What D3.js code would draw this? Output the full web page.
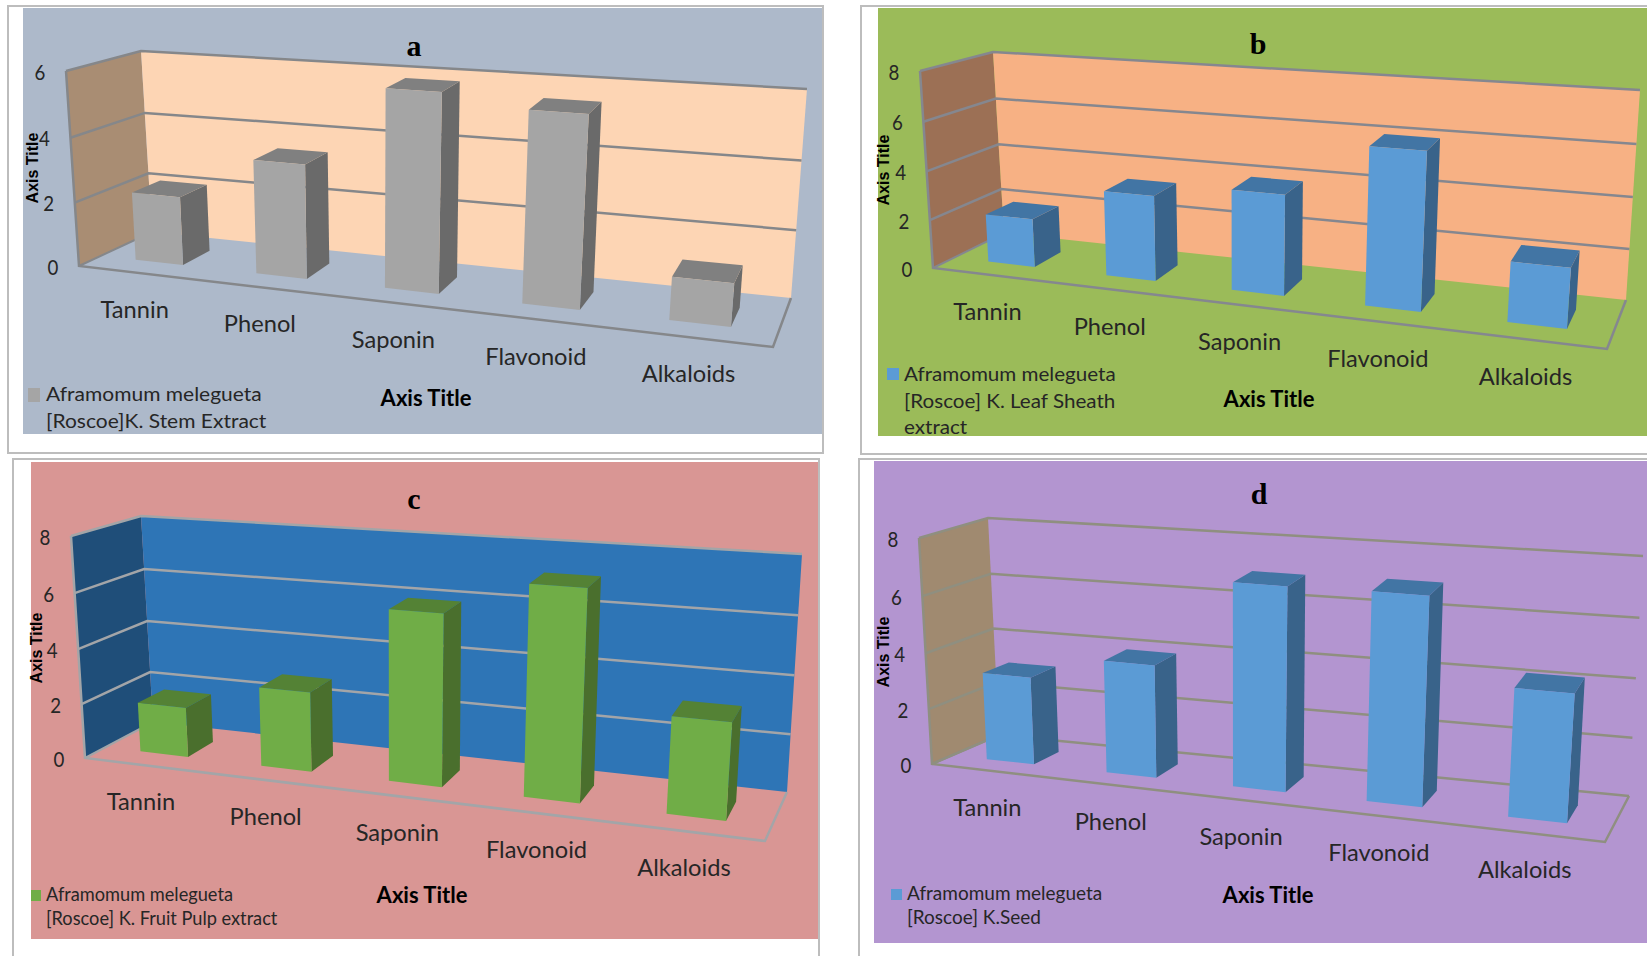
<!DOCTYPE html>
<html>
<head>
<meta charset="utf-8">
<title>Phytochemical content of Aframomum melegueta extracts</title>
<script src="https://cdnjs.cloudflare.com/ajax/libs/d3/7.9.0/d3.min.js"></script>
<style>
  html, body { margin: 0; padding: 0; background: #fff; overflow: hidden; }
  svg { display: block; }
</style>
</head>
<body>
<script>
// Chart content
const categories = ["Tannin", "Phenol", "Saponin", "Flavonoid", "Alkaloids"];
const stemValues = [2.15, 3.5, 5.9, 5.57, 1.24];
const leafValues = [2.0, 3.45, 3.98, 6.08, 2.28];
const pulpValues = [1.83, 2.85, 5.99, 7.18, 3.25];
const seedValues = [3.14, 3.98, 7.03, 7.08, 4.31];
const stemTicks = [0, 2, 4, 6];
const otherTicks = [0, 2, 4, 6, 8];
const stemLegend = ["Aframomum melegueta", "[Roscoe]K. Stem Extract"];
const leafLegend = ["Aframomum melegueta", "[Roscoe] K. Leaf Sheath", "extract"];
const pulpLegend = ["Aframomum melegueta", "[Roscoe] K. Fruit Pulp extract"];
const seedLegend = ["Aframomum melegueta", "[Roscoe] K.Seed"];

const BLUE_BARS = { front: "#5b9bd5", side: "#39638a", top: "#4275a4" };

// One entry per panel: card and plot rectangles, the corners of the 3D box, and colours.
const panels = [
  {
    title: "a", values: stemValues, ticks: stemTicks, legend: stemLegend, foreshorten: 1.18,
    card: [8, 6, 815, 447], plot: [23, 8, 799, 426],
    corners: { flt: [66, 71], flb: [79, 266], blt: [141, 51], blb: [152, 232], brt: [807, 89], brb: [791, 298], frb: [773, 347] },
    bg: "#adb9ca", wall: "#fdd5b4", sideWall: "#a98d73", grid: "#85878a", bars: { front: "#a5a5a5", side: "#6a6a6a", top: "#808080" },
    titlePos: [414, 45], yTitle: [32, 168], xTitle: [426, 397],
    legendPos: { swatch: [28, 388, 12, 14], x: 46, ys: [393, 420], sx: 1.05 }
  },
  {
    title: "b", values: leafValues, ticks: otherTicks, legend: leafLegend, foreshorten: 1.17,
    card: [861, 6, 800, 448], plot: [878, 8, 769, 428],
    corners: { flt: [920, 71], flb: [933, 268], blt: [993, 52], blb: [1004, 233], brt: [1640, 90], brb: [1626, 300], frb: [1607, 349] },
    bg: "#9bbb59", wall: "#f7b184", sideWall: "#9c7055", grid: "#85878f", bars: BLUE_BARS,
    titlePos: [1258, 43], yTitle: [883, 170], xTitle: [1269, 398],
    legendPos: { swatch: [887, 368, 12, 12], x: 904, ys: [373, 400, 426], sx: 1.03 }
  },
  {
    title: "c", values: pulpValues, ticks: otherTicks, legend: pulpLegend, foreshorten: 1.15,
    card: [13, 459, 806, 510], plot: [31, 462, 787, 477],
    corners: { flt: [71, 536], flb: [85, 758], blt: [141, 516], blb: [153, 722], brt: [802, 554], brb: [787, 792], frb: [765, 841] },
    bg: "#d99694", wall: "#2e75b6", sideWall: "#1f4e79", grid: "#a3a5a8", bars: { front: "#70ad47", side: "#4a6f2d", top: "#548235" },
    titlePos: [414, 498], yTitle: [36, 648], xTitle: [422, 894],
    legendPos: { swatch: [31, 890, 10, 11], x: 46, ys: [893, 917], sx: 0.91 }
  },
  {
    title: "d", values: seedValues, ticks: otherTicks, legend: seedLegend, foreshorten: 1.15,
    card: [859, 459, 800, 510], plot: [874, 461, 773, 482],
    corners: { flt: [919, 538], flb: [932, 764], blt: [988, 518], blb: [999, 735], brt: [1643, 556], brb: [1629, 796], frb: [1605, 842] },
    bg: "#b395d0", wall: "none", sideWall: "#a08a70", grid: "#8f8f80", bars: BLUE_BARS,
    titlePos: [1259, 493], yTitle: [883, 652], xTitle: [1268, 894],
    legendPos: { swatch: [891, 889, 11, 11], x: 907, ys: [892, 916], sx: 0.95 }
  }
];

const svg = d3.select("body").append("svg").attr("width", 1647).attr("height", 956);

// Bars fill 40% of each category slot, and 40% of the floor depth.
const categoryScale = d3.scaleBand().domain(categories).range([0, 1]).paddingInner(0.6).paddingOuter(0.3);
const depthScale = d3.scaleBand().domain(["bar"]).range([0, 1]).paddingInner(0).paddingOuter(0.75);
const VERTICAL_FORESHORTEN = 1.04;
const lerp = (a, b, t) => a + (b - a) * t;
const lerpPt = (a, b, t) => [lerp(a[0], b[0], t), lerp(a[1], b[1], t)];

function makeProjector(c, foreshorten) {
  const heightLeft = c.flb[1] - c.flt[1], heightBack = c.blb[1] - c.blt[1], heightRight = c.brb[1] - c.brt[1];
  const grow = heightLeft / heightBack;
  const frt = [c.frb[0] + (c.brt[0] - c.brb[0]) * 1.25, c.frb[1] - heightRight * grow];
  // u along the categories, h as a 0-1 fraction of the value axis, w from front to back wall
  return (u, h, w) => {
    const t = u / (u + foreshorten * (1 - u));
    const s = h / (h + VERTICAL_FORESHORTEN * (1 - h));
    const frontBase = lerpPt(c.flb, c.frb, t), frontTop = lerpPt(c.flt, frt, t);
    const backBase = lerpPt(c.blb, c.brb, t), backTop = lerpPt(c.blt, c.brt, t);
    return lerpPt(lerpPt(frontBase, frontTop, s), lerpPt(backBase, backTop, s), w);
  };
}

// Text helper: glyphs are scaled horizontally to reach the set widths of the labels.
function label(g, txt, x, y, o) {
  return g.append("text")
    .attr("transform", `translate(${x},${y}) scale(${o.sx || 1},1)${o.rotate ? ` rotate(${o.rotate})` : ""}`)
    .attr("text-anchor", o.anchor || "middle")
    .attr("dominant-baseline", "central")
    .attr("font-family", o.family || "Lato, 'Open Sans', sans-serif")
    .attr("font-size", o.size)
    .attr("font-weight", o.weight || 400)
    .attr("fill", o.fill || "#262626")
    .text(txt);
}

const polygon = pts => pts.map(p => p.join(",")).join(" ");

panels.forEach(panel => {
  const g = svg.append("g").attr("class", `panel-${panel.title}`);
  const [cx, cy, cw, ch] = panel.card;
  const [px, py, pw, ph] = panel.plot;
  g.append("rect").attr("x", cx).attr("y", cy).attr("width", cw).attr("height", ch)
    .attr("fill", "#fff").attr("stroke", "#bdbdbd").attr("stroke-width", 2);
  g.append("rect").attr("x", px).attr("y", py).attr("width", pw).attr("height", ph).attr("fill", panel.bg);

  const project = makeProjector(panel.corners, panel.foreshorten);
  const maxTick = d3.max(panel.ticks);
  const valueScale = d3.scaleLinear().domain([0, maxTick]).range([0, 1]);

  // Walls
  g.append("polygon").attr("fill", panel.sideWall)
    .attr("points", polygon([project(0, 0, 0), project(0, 1, 0), project(0, 1, 1), project(0, 0, 1)]));
  g.append("polygon").attr("fill", panel.wall)
    .attr("points", polygon([project(0, 0, 1), project(0, 1, 1), project(1, 1, 1), project(1, 0, 1)]));

  // Gridlines wrap from the value axis across the side wall and the back wall
  const line = d3.line();
  panel.ticks.forEach(tick => {
    const h = valueScale(tick);
    if (tick === 0 && panel.wall !== "none") return;
    g.append("path").attr("d", line([project(0, h, 0), project(0, h, 1), project(1, h, 1)]))
      .attr("fill", "none").attr("stroke", panel.grid).attr("stroke-width", 2.5);
  });
  // Vertical axis and floor outline
  g.append("path").attr("d", line([project(0, 1, 0), project(0, 0, 0), project(1, 0, 0), project(1, 0, 1)]))
    .attr("fill", "none").attr("stroke", panel.grid).attr("stroke-width", 2.5);
  g.append("path").attr("d", line([project(0, 0, 0), project(0, 0, 1)]))
    .attr("fill", "none").attr("stroke", panel.grid).attr("stroke-width", 2);

  // Bars: side, top, then front face
  const w0 = depthScale("bar"), w1 = w0 + depthScale.bandwidth();
  categories.forEach((cat, i) => {
    const u0 = categoryScale(cat), u1 = u0 + categoryScale.bandwidth();
    const h = valueScale(panel.values[i]);
    g.append("polygon").attr("fill", panel.bars.side)
      .attr("points", polygon([project(u1, 0, w0), project(u1, h, w0), project(u1, h, w1), project(u1, 0, w1)]));
    g.append("polygon").attr("fill", panel.bars.top)
      .attr("points", polygon([project(u0, h, w0), project(u1, h, w0), project(u1, h, w1), project(u0, h, w1)]));
    g.append("polygon").attr("fill", panel.bars.front)
      .attr("points", polygon([project(u0, 0, w0), project(u1, 0, w0), project(u1, h, w0), project(u0, h, w0)]));

    const centre = project(u0 + categoryScale.bandwidth() / 2, 0, 0);
    label(g, cat, centre[0] - 4, centre[1] + 36, { size: 23, sx: 1.03 });
  });

  // Value axis labels
  panel.ticks.forEach(tick => {
    const p = project(0, valueScale(tick), 0);
    label(g, String(tick), p[0] - 26, p[1], { size: 22, sx: 0.85 });
  });

  // Titles
  label(g, panel.title, panel.titlePos[0], panel.titlePos[1], { size: 30, weight: 700, fill: "#000", family: "'Liberation Serif', serif" });
  label(g, "Axis Title", panel.xTitle[0], panel.xTitle[1], { size: 22, weight: 700, fill: "#000", sx: 1.0 });
  label(g, "Axis Title", panel.yTitle[0], panel.yTitle[1], { size: 16, weight: 700, fill: "#000", family: "'Liberation Sans', sans-serif", rotate: -90 });

  // Legend
  const lp = panel.legendPos;
  g.append("rect").attr("x", lp.swatch[0]).attr("y", lp.swatch[1]).attr("width", lp.swatch[2]).attr("height", lp.swatch[3]).attr("fill", panel.bars.front);
  panel.legend.forEach((txt, i) => {
    label(g, txt, lp.x, lp.ys[i], { size: 20, anchor: "start", sx: lp.sx });
  });
});
</script>
</body>
</html>
